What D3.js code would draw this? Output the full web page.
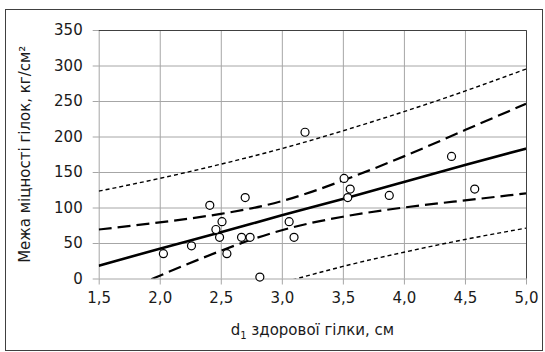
<!DOCTYPE html>
<html>
<head>
<meta charset="utf-8">
<script src="https://cdn.jsdelivr.net/npm/d3@7"></script>
<style>
  body { margin: 0; background: #fff; }
  svg { display: block; font-family: "DejaVu Sans", Verdana, sans-serif; }
</style>
</head>
<body>
<div id="chart"></div>
<script>
let width = 545,
    height = 352,
    margin = ({ top: 30, right: 19, bottom: 73.5, left: 98.7 });

// d1 of healthy branch (cm) vs strength of branches (kg/cm2)
const diam = [2.03, 2.26, 2.41, 2.46, 2.49, 2.51, 2.55, 2.67, 2.70, 2.74,
              2.82, 3.06, 3.10, 3.19, 3.51, 3.54, 3.56, 3.88, 4.39, 4.58];
const strength = [35, 46, 103, 69, 58, 80, 35, 58, 114, 58,
                  2, 80, 58, 206, 141, 114, 126, 117, 172, 126];

const bandX     = [1.5, 2.0, 2.5, 3.0, 3.5, 4.0, 4.5, 5.0];
const fitY      = [18, 42, 65, 89, 112, 136, 160, 183];
const confUpper = [69, 79, 91, 109, 138, 172, 209, 246];
const confLower = [-32, 4, 39, 68, 87, 100, 110, 120];
const predUpper = [123, 141, 161, 183, 208, 235, 264, 295];
const predLower = [-87, -58, -30, -6, 17, 37, 55, 71];

const xTicks = [1.5, 2.0, 2.5, 3.0, 3.5, 4.0, 4.5, 5.0];
const yTicks = [0, 50, 100, 150, 200, 250, 300, 350];

const svg = d3.select("#chart")
    .append("svg")
    .attr("width", width)
    .attr("height", height);

// outer frame
svg.append("rect")
    .attr("x", 5.5).attr("y", 9.5)
    .attr("width", 537).attr("height", 341)
    .attr("fill", "none")
    .attr("stroke", "#404040");

let x = d3.scaleLinear()
    .domain([1.5, 5.0])
    .range([margin.left, width - margin.right]);

let y = d3.scaleLinear()
    .domain([0, 350])
    .range([height - margin.bottom, margin.top]);

const comma = d => d3.format(".1f")(d).replace(".", ",");

// x axis with vertical grid
svg.append("g")
    .attr("class", "x-axis")
    .attr("transform", `translate(0,${y(0)})`)
    .call(d3.axisBottom(x).tickValues(xTicks).tickFormat(comma)
        .tickSizeInner(-(y(0) - y(350))).tickSizeOuter(0).tickPadding(14))
    .call(g => g.select(".domain").remove())
    .call(g => g.selectAll(".tick line").attr("stroke", "#a6a6a6"))
    .call(g => g.selectAll(".tick").append("line")
        .attr("y2", 6).attr("stroke", "#a6a6a6"));

// y axis with horizontal grid
svg.append("g")
    .attr("class", "y-axis")
    .attr("transform", `translate(${x(1.5)},0)`)
    .call(d3.axisLeft(y).tickValues(yTicks)
        .tickSizeInner(-(x(5.0) - x(1.5))).tickSizeOuter(0).tickPadding(16))
    .call(g => g.select(".domain").remove())
    .call(g => g.selectAll(".tick line").attr("stroke", "#a6a6a6"))
    .call(g => g.selectAll(".tick").append("line")
        .attr("x2", -6).attr("stroke", "#a6a6a6"));

svg.selectAll(".tick text")
    .attr("font-size", 15)
    .attr("fill", "#1a1a1a")
    .attr("font-family", "DejaVu Sans, Verdana, sans-serif");

// darker top and right edge of plot area
svg.append("path")
    .attr("d", `M${x(1.5)},${y(350) + 0.5}H${x(5.0) + 0.5}V${y(0)}`)
    .attr("fill", "none")
    .attr("stroke", "#404040");

svg.append("clipPath").attr("id", "plot")
  .append("rect")
    .attr("x", x(1.5)).attr("y", y(350))
    .attr("width", x(5.0) - x(1.5)).attr("height", y(0) - y(350));

const band = vals => d3.line()
    .x((d, i) => x(bandX[i]))
    .y(d => y(d))
    .curve(d3.curveNatural)(vals);

const lines = svg.append("g").attr("clip-path", "url(#plot)").attr("fill", "none");

// prediction band, short dashes
[predUpper, predLower].forEach(v => {
  lines.append("path")
    .attr("d", band(v))
    .attr("stroke", "#000")
    .attr("stroke-width", 1.4)
    .attr("stroke-dasharray", "4,3");
});

// confidence band, long dashes
[confUpper, confLower].forEach(v => {
  lines.append("path")
    .attr("d", band(v))
    .attr("stroke", "#000")
    .attr("stroke-width", 2.2)
    .attr("stroke-dasharray", "13,6");
});

// regression line
lines.append("path")
    .attr("d", band(fitY))
    .attr("stroke", "#000")
    .attr("stroke-width", 2.6);

// observations
svg.append("g")
    .selectAll("circle")
    .data(diam)
    .join("circle")
    .attr("cx", d => x(d))
    .attr("cy", (d, i) => y(strength[i]))
    .attr("r", 4)
    .attr("fill", "#fff")
    .attr("stroke", "#000")
    .attr("stroke-width", 1.2);

// axis titles
const xt = svg.append("text")
    .attr("x", (x(1.5) + x(5.0)) / 2)
    .attr("y", 335)
    .attr("text-anchor", "middle")
    .attr("font-size", 15)
    .attr("fill", "#1a1a1a");
xt.append("tspan").text("d");
xt.append("tspan").attr("font-size", 10).attr("dy", 4).text("1");
xt.append("tspan").attr("dy", -4).text(" здорової гілки, см");

svg.append("text")
    .attr("transform", `translate(30,${(y(0) + y(350)) / 2}) rotate(-90)`)
    .attr("text-anchor", "middle")
    .attr("font-size", 15)
    .attr("fill", "#1a1a1a")
    .text("Межа міцності гілок, кг/см²");
</script>
</body>
</html>
